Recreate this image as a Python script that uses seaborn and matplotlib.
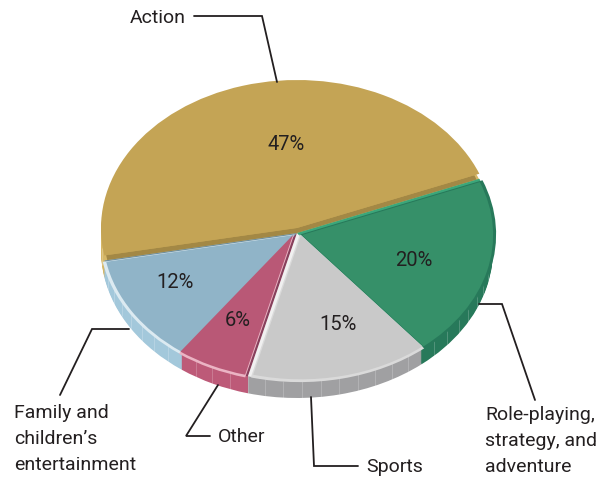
import numpy as np
import matplotlib.pyplot as plt
import seaborn as sns

# slices, counterclockwise from the Action/Role-playing boundary
categories = ['Action', 'Family and\nchildren\u2019s\nentertainment', 'Other', 'Sports',
              'Role-playing,\nstrategy, and\nadventure']
values = [47, 12, 6, 15, 20]
face_colors = ['#C4A455', '#90B4C8', '#B95876', '#C9C9C9', '#369069']
bevel_colors = ['#A38845', '#6F8F9F', '#86405C', '#F0F0F0', '#3BA67A']
rim_colors = ['#DDBB66', '#DCEAF1', '#EBB4C4', '#DADADA', '#27795A']
side_colors = ['#D6B767', '#A3C8DB', '#BD5A78', '#A0A0A2', '#27795A']

# offset of each top face over its bevel, in pixels (right, up)
face_shift = [(0, 5), (-3, -2), (-4, -2), (4, -2), (5, -2)]

START = 21.5
CX, CY, RX, RY = 297, 233, 196, 148
DEPTH = 17
W, H = 608, 479


def draw_layer(ax, colors, radius=1.0, center=(0, 0), shifts=None, zorder=1):
    wedges, _ = ax.pie(values, colors=colors, startangle=START, radius=radius,
                       center=center, frame=True, wedgeprops={'linewidth': 0})
    for i, w in enumerate(wedges):
        w.set_zorder(zorder)
        if shifts is not None:
            w.set_center((center[0] + shifts[i][0] / RX, center[1] + shifts[i][1] / RY))
    return wedges


sns.set_theme(style='white')
plt.rcParams['font.family'] = ['Roboto', 'DejaVu Sans']

fig = plt.figure(figsize=(W / 100, H / 100), dpi=100)
ax = fig.add_axes([0, 0, 1, 1])

# side wall
for d in range(DEPTH, 0, -1):
    draw_layer(ax, side_colors, center=(0, -d / RY), zorder=1)

# rib lines on the wall
edges = START + np.cumsum([0] + values) * 3.6
for i in range(len(values)):
    for a in np.arange(edges[i] + 5, edges[i + 1], 5.5):
        if np.sin(np.radians(a)) < -0.05:
            x = np.cos(np.radians(a))
            y = np.sin(np.radians(a))
            ax.vlines(x, y - DEPTH / RY, y, color='white', lw=0.4, alpha=0.35, zorder=2)

# bevel under the faces, rim highlight, then the face
bevel = draw_layer(ax, bevel_colors, zorder=3)
bevel[0].set_radius(0.985)
draw_layer(ax, rim_colors, radius=0.998, zorder=4,
           shifts=[(s[0] * 0.7, s[1] * 0.7) for s in face_shift])[0].set_visible(False)
draw_layer(ax, face_colors, radius=0.975, zorder=5, shifts=face_shift)

# the Action face reaches the outer edge
gold = draw_layer(ax, face_colors, radius=1.0, zorder=5, shifts=face_shift)
for w in gold[1:]:
    w.set_visible(False)

ax.set_aspect('auto')
ax.set_xlim(-CX / RX, (W - CX) / RX)
ax.set_ylim((CY - H) / RY, CY / RY)
ax.axis('off')

# overlay in pixel coordinates for text and leader lines
over = fig.add_axes([0, 0, 1, 1], facecolor='none')
over.set_xlim(0, W)
over.set_ylim(H, 0)
over.axis('off')

pct_pos = [(286, 144), (175, 283), (238, 321), (338, 325), (414, 260)]
for v, (x, y) in zip(values, pct_pos):
    over.text(x, y, f'{v}%', ha='center', va='center', fontsize=14.5, color='#231F20')

leaders = [
    [(194, 16), (262, 16), (277, 82)],
    [(60, 395), (92, 329), (129, 329)],
    [(210, 436), (186, 436), (218, 385)],
    [(358, 466), (314, 466), (311, 397)],
    [(479, 304), (502, 304), (535, 400)],
]
for pts in leaders:
    xs, ys = zip(*pts)
    over.plot(xs, ys, color='#231F20', lw=1.3, solid_joinstyle='miter')

label_pos = [(186, 18, 'right'), (14, 439, 'left'), (218, 437, 'left'),
             (366, 467, 'left'), (485, 441, 'left')]
for name, (x, y, ha) in zip(categories, label_pos):
    over.text(x, y, name, ha=ha, va='center', fontsize=14, color='#231F20', linespacing=1.58)

fig.savefig('out.png', dpi=100)
